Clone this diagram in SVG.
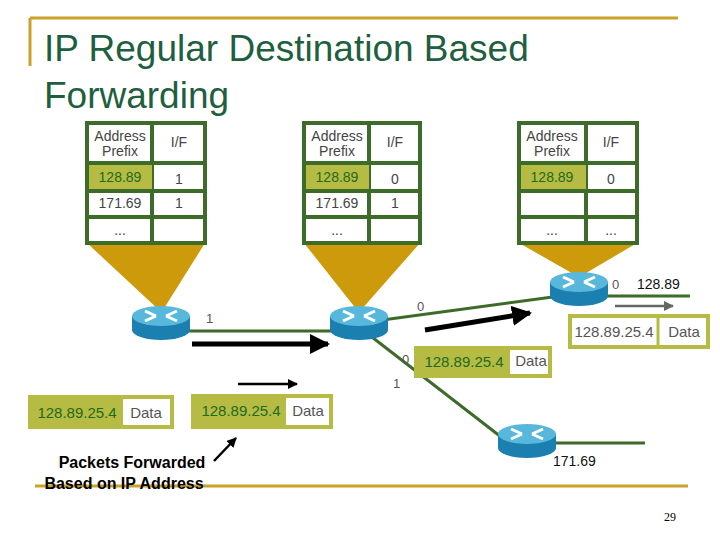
<svg xmlns="http://www.w3.org/2000/svg" width="720" height="540" viewBox="0 0 720 540">
<defs>
<style>
.t{font-family:"Liberation Sans",Arial,sans-serif}
.tb{fill:#fff;stroke:#3d6b2a;stroke-width:4}
.hi{fill:#b5bb43;stroke:none}
.cell{font-family:"Liberation Sans",Arial,sans-serif;font-size:14px;fill:#444;text-anchor:middle}
.g{fill:#1e6b1e}
.fun{fill:#cc9a0a}
.ln{stroke:#3d6b2a;stroke-width:3;fill:none}
.lab{font-family:"Liberation Sans",Arial,sans-serif;font-size:13px;fill:#555}
.pk{fill:#fff;stroke:#b5bb43;stroke-width:4}
</style>
<marker id="ah" viewBox="0 0 10 10" refX="9" refY="5" markerWidth="4" markerHeight="4" orient="auto"><path d="M0,0L10,5L0,10z" fill="#000"/></marker>
<marker id="ahg" viewBox="0 0 10 10" refX="9" refY="5" markerWidth="4" markerHeight="4" orient="auto"><path d="M0,0L10,5L0,10z" fill="#666"/></marker>
<g id="rt">
<path d="M-29,0 v14 a29,10 0 0 0 58,0 v-14z" fill="#1b7fb0"/>
<ellipse cx="0" cy="0" rx="29" ry="10" fill="#58b8dc"/>
<path d="M-16,-5 l11,5 M16,5 l-11,-5 M-16,5 l11,-5 M16,-5 l-11,5" stroke="#fff" stroke-width="3"/>
</g>
</defs>
<rect width="720" height="540" fill="#fff"/>
<g id="title">
<path d="M30,18 H678 M30,18 V66" stroke="#c9a227" stroke-width="3"/>
<text class="t" x="44" y="61" font-size="37" fill="#1f5f3f">IP Regular Destination Based</text>
<text class="t" x="44" y="108" font-size="37" fill="#1f5f3f">Forwarding</text>
</g>
<line x1="35" y1="486" x2="688" y2="486" stroke="#c9a227" stroke-width="3"/>
<g id="connectors">
<polygon class="fun" points="87,243 205,243 163,310 159,310"/>
<polygon class="fun" points="304,243 420,243 361,310 357,310"/>
<polygon class="fun" points="519,243 637,243 581,276 577,276"/>
<line class="ln" x1="170" y1="331" x2="350" y2="331"/>
<line class="ln" x1="375" y1="321" x2="560" y2="296"/>
<line class="ln" x1="600" y1="296" x2="690" y2="296"/>
<line class="ln" x1="368" y1="334" x2="505" y2="440"/>
<line class="ln" x1="548" y1="443" x2="645" y2="443"/>
<line x1="192" y1="344" x2="328" y2="344" stroke="#000" stroke-width="5" marker-end="url(#ah)"/>
<line x1="425" y1="330" x2="530" y2="313" stroke="#000" stroke-width="5" marker-end="url(#ah)"/>
<line x1="615" y1="306" x2="673" y2="306" stroke="#666" stroke-width="2.5" marker-end="url(#ahg)"/>
<line x1="238" y1="384" x2="297" y2="384" stroke="#000" stroke-width="2.5" marker-end="url(#ah)"/>
<line x1="214" y1="461" x2="236" y2="438" stroke="#000" stroke-width="2.5" marker-end="url(#ah)"/>
</g>
<g id="r1"><use href="#rt" x="161" y="316"/></g>
<g id="r2"><use href="#rt" x="359" y="316"/></g>
<g id="r3"><use href="#rt" x="579" y="282"/></g>
<g id="r4"><use href="#rt" x="527" y="434"/></g>
<g id="table1">
<rect class="tb" x="87" y="123" width="118" height="120"/>
<path d="M87,163 H205 M87,191 H205 M87,217 H205 M152,123 V243" stroke="#3d6b2a" stroke-width="4"/>
<rect class="hi" x="89" y="165" width="63" height="24"/>
<text class="cell" x="120" y="141">Address</text><text class="cell" x="120" y="156">Prefix</text>
<text class="cell" x="179" y="147">I/F</text>
<text class="cell g" x="120" y="182" font-size="15">128.89</text><text class="cell" x="179" y="184">1</text>
<text class="cell" x="120" y="208">171.69</text><text class="cell" x="179" y="208">1</text>
<text class="cell" x="120" y="235">...</text>
</g>
<g id="table2">
<rect class="tb" x="304" y="123" width="116" height="120"/>
<path d="M304,163 H420 M304,191 H420 M304,217 H420 M369,123 V243" stroke="#3d6b2a" stroke-width="4"/>
<rect class="hi" x="306" y="165" width="63" height="24"/>
<text class="cell" x="337" y="141">Address</text><text class="cell" x="337" y="156">Prefix</text>
<text class="cell" x="395" y="147">I/F</text>
<text class="cell g" x="337" y="182" font-size="15">128.89</text><text class="cell" x="395" y="184">0</text>
<text class="cell" x="337" y="208">171.69</text><text class="cell" x="395" y="208">1</text>
<text class="cell" x="337" y="235">...</text>
</g>
<g id="table3">
<rect class="tb" x="519" y="123" width="118" height="120"/>
<path d="M519,163 H637 M519,191 H637 M519,217 H637 M586,123 V243" stroke="#3d6b2a" stroke-width="4"/>
<rect class="hi" x="521" y="165" width="65" height="24"/>
<text class="cell" x="552" y="141">Address</text><text class="cell" x="552" y="156">Prefix</text>
<text class="cell" x="611" y="147">I/F</text>
<text class="cell g" x="552" y="182" font-size="15">128.89</text><text class="cell" x="611" y="184">0</text>
<text class="cell" x="552" y="235">...</text><text class="cell" x="611" y="235">...</text>
</g>
<g id="labels">
<text class="lab" x="206" y="323">1</text>
<text class="lab" x="417" y="311">0</text>
<text class="lab" x="612" y="289">0</text>
<text class="t" x="637" y="289" font-size="14" fill="#111">128.89</text>
<text class="lab" x="402" y="364">0</text>
<text class="lab" x="393" y="388">1</text>
<text class="t" x="553" y="466" font-size="14" fill="#111">171.69</text>
</g>
<g id="pkt1">
<rect class="pk" x="30" y="397" width="142" height="30"/>
<rect class="hi" x="32" y="399" width="91" height="26"/>
<text class="t" x="77" y="418" font-size="15" fill="#1e6b1e" text-anchor="middle">128.89.25.4</text>
<text class="t" x="146" y="418" font-size="15" fill="#555" text-anchor="middle">Data</text>
</g>
<g id="pkt2">
<rect class="pk" x="193" y="396" width="138" height="31"/>
<rect class="hi" x="195" y="398" width="91" height="27"/>
<text class="t" x="241" y="416" font-size="15" fill="#1e6b1e" text-anchor="middle">128.89.25.4</text>
<text class="t" x="308" y="416" font-size="15" fill="#555" text-anchor="middle">Data</text>
</g>
<g id="pkt3">
<rect class="pk" x="416" y="348" width="134" height="28"/>
<rect class="hi" x="418" y="350" width="92" height="24"/>
<text class="t" x="464" y="367" font-size="15" fill="#1e6b1e" text-anchor="middle">128.89.25.4</text>
<text class="t" x="531" y="366" font-size="15" fill="#555" text-anchor="middle">Data</text>
</g>
<g id="pkt4">
<rect class="pk" x="570" y="316" width="138" height="31"/>
<line x1="658" y1="316" x2="658" y2="347" stroke="#b5bb43" stroke-width="3"/>
<text class="t" x="614" y="337" font-size="15" fill="#555" text-anchor="middle">128.89.25.4</text>
<text class="t" x="684" y="337" font-size="15" fill="#555" text-anchor="middle">Data</text>
</g>
<g id="caption">
<text class="t" x="132" y="468" font-size="16" font-weight="bold" fill="#000" text-anchor="middle">Packets Forwarded</text>
<text class="t" x="124" y="489" font-size="16" font-weight="bold" fill="#000" text-anchor="middle">Based on IP Address</text>
</g>
<text x="670" y="521" font-family="Liberation Serif,serif" font-size="12" fill="#000" text-anchor="middle">29</text>
</svg>
